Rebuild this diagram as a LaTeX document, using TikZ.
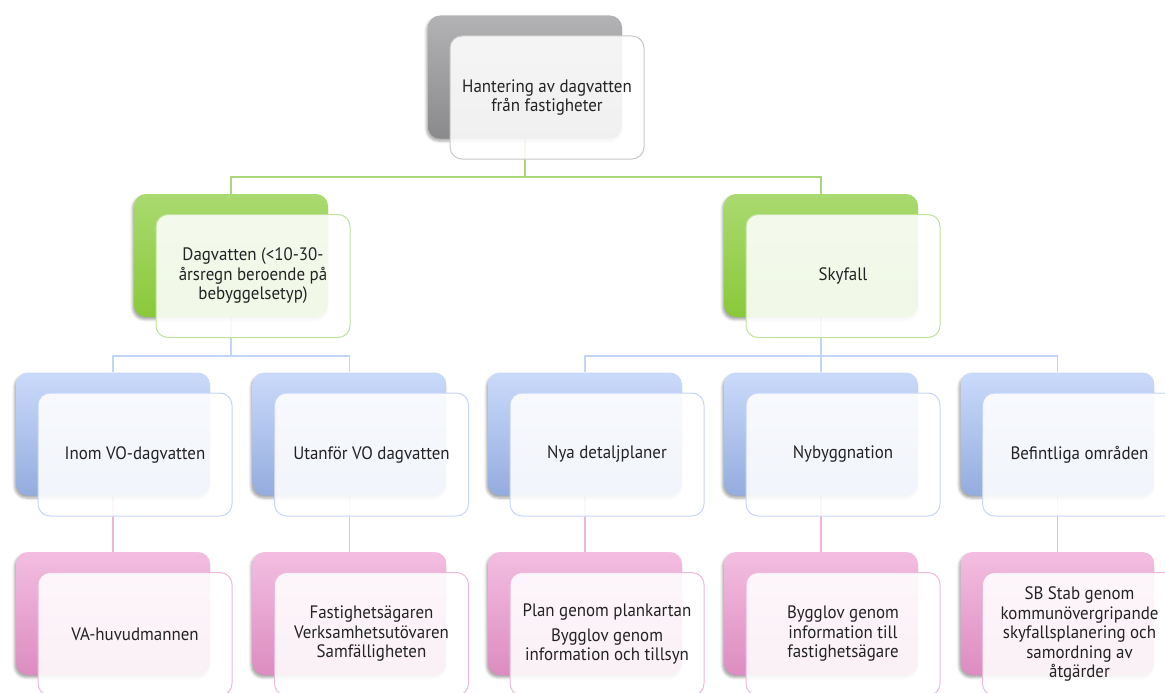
\documentclass[tikz,border=0pt]{standalone}
\usepackage{fontspec}
\setmainfont[FakeStretch=0.94]{PT Sans}
\usetikzlibrary{shadows.blur}

\definecolor{txt}{RGB}{35,35,35}
\definecolor{grayT}{RGB}{178,178,180}
\definecolor{grayB}{RGB}{138,138,140}
\definecolor{grayE}{RGB}{200,200,200}
\definecolor{greenT}{RGB}{170,218,112}
\definecolor{greenB}{RGB}{138,200,58}
\definecolor{greenE}{RGB}{192,226,155}
\definecolor{greenL}{RGB}{168,214,120}
\definecolor{blueT}{RGB}{202,218,250}
\definecolor{blueB}{RGB}{148,172,222}
\definecolor{blueE}{RGB}{200,214,250}
\definecolor{blueL}{RGB}{196,212,246}
\definecolor{pinkT}{RGB}{243,190,225}
\definecolor{pinkB}{RGB}{220,140,192}
\definecolor{pinkE}{RGB}{238,186,220}
\definecolor{pinkL}{RGB}{240,182,218}

\tikzset{
  card/.style={rectangle, rounded corners=12pt, minimum width=194pt,
    minimum height=123pt, inner sep=0pt},
  backcard/.style 2 args={card, top color=#1, bottom color=#2,
    blur shadow={shadow xshift=-1.5pt, shadow yshift=-2.5pt,
      shadow blur radius=2.5pt, shadow opacity=35}},
  frontcard/.style={card, draw=#1, line width=1pt, fill=white,
    fill opacity=0.88, text opacity=1, text=txt, align=center,
    font=\fontsize{18}{19.5}\selectfont},
  conn/.style={draw=#1, line width=1.5pt},
}

\begin{document}
\begin{tikzpicture}[x=1pt, y=-1pt]
\useasboundingbox (0,0) rectangle (1165,693);

% bus junctions
\coordinate (busA) at (525,177);
\coordinate (busB) at (231,356);
\coordinate (busC) at (821,356);

% placeholders for the back cards, so connectors can be drawn underneath
\node[card] (b1) at (525,77) {};
\node[card] (b2a) at (231,255.5) {};
\node[card] (b2b) at (821,255.5) {};
\foreach \n/\x in {a/113, b/349.5, c/585, d/821, e/1057.5}{
  \node[card] (b3\n) at (\x,434) {};
  \node[card] (b4\n) at (\x,613.5) {};
}

% connectors
\draw[conn=greenL] (b1.south) -- (busA) -| (b2a.north);
\draw[conn=greenL] (busA) -| (b2b.north);
\draw[conn=blueL] (b2a.south) -- (busB) -| (b3a.north);
\draw[conn=blueL] (busB) -| (b3b.north);
\draw[conn=blueL] (b2b.south) -- (busC) -| (b3c.north);
\draw[conn=blueL] (busC) -| (b3e.north);
\draw[conn=blueL] (busC) -- (b3d.north);
\foreach \n in {a,b,c,d,e}{
  \draw[conn=pinkL] (b3\n.south) -- (b4\n.north);
}

% back cards
\node[backcard={grayT}{grayB}] at (b1) {};
\node[backcard={greenT}{greenB}] at (b2a) {};
\node[backcard={greenT}{greenB}] at (b2b) {};
\foreach \n in {a,b,c,d,e}{
  \node[backcard={blueT}{blueB}] at (b3\n) {};
  \node[backcard={pinkT}{pinkB}] at (b4\n) {};
}

% front cards with text
\node[frontcard=grayE] (f1) at (547,97.5) {Hantering av dagvatten\\från fastigheter};
\node[frontcard=greenE] (f2a) at (253,276) {Dagvatten (<10-30-\\årsregn beroende på\\bebyggelsetyp)};
\node[frontcard=greenE] (f2b) at (843,276) {Skyfall};

\node[frontcard=blueE] (f3a) at (135,454.5) {Inom VO-dagvatten};
\node[frontcard=blueE] (f3b) at (371.5,454.5) {Utanför VO dagvatten};
\node[frontcard=blueE] (f3c) at (607,454.5) {Nya detaljplaner};
\node[frontcard=blueE] (f3d) at (843,454.5) {Nybyggnation};
\node[frontcard=blueE] (f3e) at (1079.5,454.5) {Befintliga områden};

\node[frontcard=pinkE] (f4a) at (135,634) {VA-huvudmannen};
\node[frontcard=pinkE] (f4b) at (371.5,634) {Fastighetsägaren\\Verksamhetsutövaren\\Samfälligheten};
\node[frontcard=pinkE] (f4c) at (607,634) {Plan genom plankartan\\[5pt]Bygglov genom\\information och tillsyn};
\node[frontcard=pinkE] (f4d) at (843,634) {Bygglov genom\\information till\\fastighetsägare};
\node[frontcard=pinkE] (f4e) at (1079.5,634) {SB Stab genom\\kommunövergripande\\skyfallsplanering och\\samordning av\\åtgärder};
\end{tikzpicture}
\end{document}
